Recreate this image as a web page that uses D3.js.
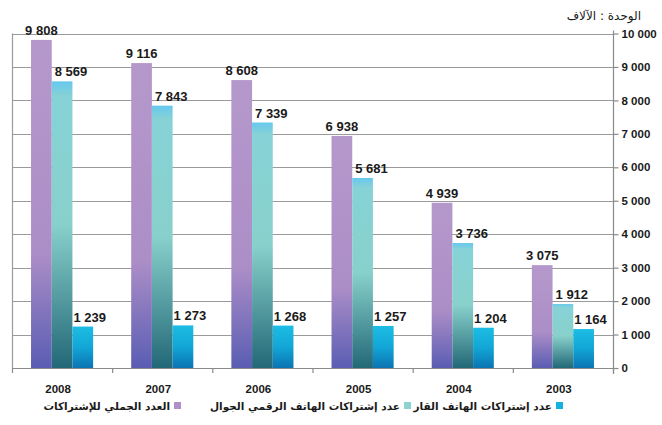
<!DOCTYPE html>
<html><head><meta charset="utf-8">
<script src="https://cdn.jsdelivr.net/npm/d3@7"></script>
<style>
html,body{margin:0;padding:0;background:#fff;}
svg{display:block;}
</style></head>
<body>
<svg id="chart" width="662" height="425"></svg>
<script>
const years = ["2008","2007","2006","2005","2004","2003"];
const totalSubs = [9808, 9116, 8608, 6938, 4939, 3075];
const mobileSubs = [8569, 7843, 7339, 5681, 3736, 1912];
const fixedSubs = [1239, 1273, 1268, 1257, 1204, 1164];
const seriesKeys = ["total","mobile","fixed"];
const seriesNames = ["العدد الجملي للإشتراكات","عدد إشتراكات الهاتف الرقمي الجوال","عدد إشتراكات الهاتف القار"];
const yTicks = [0,1000,2000,3000,4000,5000,6000,7000,8000,9000,10000];
const unitLabel = "الوحدة : الآلاف";

const data = years.map((y,i)=>({year:y, total:totalSubs[i], mobile:mobileSubs[i], fixed:fixedSubs[i]}));

const svg = d3.select("#chart");
const L = 12, R = 613, T = 33.5, B = 368;
const fmt = d3.formatLocale({decimal:".", thousands:" ", grouping:[3], currency:["",""]}).format(",d");

const x = d3.scaleBand().domain(years).range([L,R]).paddingInner(0.38).paddingOuter(0.19);
const xs = d3.scaleBand().domain(seriesKeys).range([0,x.bandwidth()]);
const y = d3.scaleLinear().domain([0,10000]).range([B,T]);

const defs = svg.append("defs");
function grad(id, stops){
  const g = defs.append("linearGradient").attr("id",id).attr("x1",0).attr("y1",0).attr("x2",0).attr("y2",1);
  stops.forEach(s=>g.append("stop").attr("offset",s[0]).attr("stop-color",s[1]));
}
grad("g-total", [[0,"#b598cb"],[0.65,"#ac8ec7"],[1,"#5a5db3"]]);
grad("g-mobile", [[0,"#66c8ee"],[0.05,"#86d2d6"],[0.5,"#88d0cb"],[1,"#236877"]]);
grad("g-fixed", [[0,"#1cbde4"],[0.5,"#12a6d6"],[1,"#0b74b2"]]);
const legendColors = {total:"#b18fca", mobile:"#8fd3d0", fixed:"#14b0df"};

// gridlines
svg.append("g").selectAll("line").data(yTicks.filter(d=>d>0)).join("line")
  .attr("x1",L).attr("x2",R).attr("y1",d=>Math.round(y(d))+0.5).attr("y2",d=>Math.round(y(d))+0.5)
  .attr("stroke","#9a9a9a").attr("stroke-width",1.2);

// left border
svg.append("line").attr("x1",L+0.5).attr("x2",L+0.5).attr("y1",y(10000)).attr("y2",B)
  .attr("stroke","#9a9a9a").attr("stroke-width",1.2);

// bars
const groups = svg.append("g").selectAll("g").data(data).join("g")
  .attr("transform",d=>`translate(${x(d.year)},0)`);
groups.selectAll("rect").data(d=>seriesKeys.map(k=>({key:k, value:d[k]}))).join("rect")
  .attr("x",d=>xs(d.key)).attr("width",xs.bandwidth())
  .attr("y",d=>y(d.value)).attr("height",d=>B-y(d.value))
  .attr("fill",d=>`url(#g-${d.key})`);

// value labels
groups.selectAll("text").data(d=>seriesKeys.map(k=>({key:k, value:d[k]}))).join("text")
  .attr("x",d=> d.key==="total" ? xs(d.key)+xs.bandwidth()/2 : xs(d.key)+(d.key==="mobile"?3:1))
  .attr("y",d=>y(d.value)-5)
  .attr("text-anchor",d=>d.key==="total"?"middle":"start")
  .attr("font-family","Liberation Sans, Arial, sans-serif").attr("font-weight","bold")
  .attr("font-size","13px").attr("fill","#1a1a1a")
  .text(d=>fmt(d.value));

// bottom axis line and boundary ticks
svg.append("line").attr("x1",L).attr("x2",R).attr("y1",B+0.5).attr("y2",B+0.5)
  .attr("stroke","#8a8a8a").attr("stroke-width",1.2);
const boundaries = years.map(yr=>x(yr)-x.step()*x.paddingOuter()).concat([R]);
svg.append("g").selectAll("line").data(boundaries).join("line")
  .attr("x1",d=>d+0.5).attr("x2",d=>d+0.5).attr("y1",B).attr("y2",B+5)
  .attr("stroke","#8a8a8a").attr("stroke-width",1.2);

// year labels
svg.append("g").selectAll("text").data(years).join("text")
  .attr("x",d=>x(d)+x.bandwidth()/2-4).attr("y",393)
  .attr("text-anchor","middle")
  .attr("font-family","Liberation Sans, Arial, sans-serif").attr("font-weight","bold")
  .attr("font-size","11.5px").attr("fill","#1a1a1a").text(d=>d);

// right axis
const yAxis = d3.axisRight(y).tickValues(yTicks).tickSize(5).tickPadding(3).tickFormat(fmt);
const ya = svg.append("g").attr("transform",`translate(${R+0.5},0)`).call(yAxis);
ya.select(".domain").attr("stroke","#8a8a8a").attr("stroke-width",1.2).attr("d",`M0,${T-3}V${B+6}`);
ya.selectAll(".tick line").attr("stroke","#8a8a8a").attr("stroke-width",1.2);
ya.selectAll(".tick text").attr("font-family","Liberation Sans, Arial, sans-serif")
  .attr("font-weight","bold").attr("font-size","11.5px").attr("fill","#1a1a1a");

// unit label
svg.append("text").attr("x",641).attr("y",20).attr("text-anchor","start").attr("direction","rtl")
  .attr("font-family","DejaVu Sans, sans-serif").attr("font-size","12px").attr("fill","#1a1a1a")
  .text(unitLabel);

// legend (RTL: square on the right of text)
const legendSquareX = [174, 404, 556];
const lg = svg.append("g").selectAll("g").data(seriesKeys).join("g");
lg.append("rect").attr("x",(d,i)=>legendSquareX[i]).attr("y",402).attr("width",7).attr("height",7)
  .attr("fill",d=>legendColors[d]);
lg.append("text").attr("x",(d,i)=>legendSquareX[i]-4).attr("y",410)
  .attr("text-anchor","start").attr("direction","rtl")
  .attr("font-family","DejaVu Sans, sans-serif").attr("font-weight","bold")
  .attr("font-size","10.5px").attr("fill","#1a1a1a")
  .text((d,i)=>seriesNames[i]);
</script>
</body></html>
